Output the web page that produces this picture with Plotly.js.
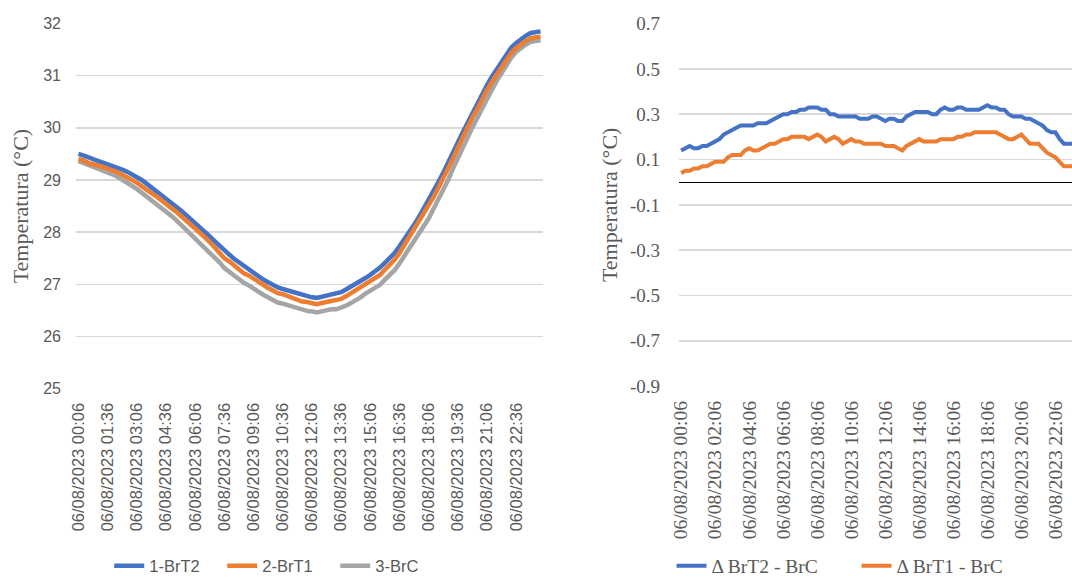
<!DOCTYPE html>
<html><head><meta charset="utf-8">
<script src="https://cdn.plot.ly/plotly-3.0.1.min.js"></script>
<style>html,body{margin:0;padding:0;overflow:hidden;background:#fff}#chart{width:1072px;height:586px}</style>
</head><body><div id="chart"></div>
<script>
const dateLabel = "06/08/2023";
const times = ["00:06","00:21","00:36","00:51","01:06","01:21","01:36","01:51","02:06","02:21","02:36","02:51",
"03:06","03:21","03:36","03:51","04:06","04:21","04:36","04:51","05:06","05:21","05:36","05:51",
"06:06","06:21","06:36","06:51","07:06","07:21","07:36","07:51","08:06","08:21","08:36","08:51",
"09:06","09:21","09:36","09:51","10:06","10:21","10:36","10:51","11:06","11:21","11:36","11:51",
"12:06","12:21","12:36","12:51","13:06","13:21","13:36","13:51","14:06","14:21","14:36","14:51",
"15:06","15:21","15:36","15:51","16:06","16:21","16:36","16:51","17:06","17:21","17:36","17:51",
"18:06","18:21","18:36","18:51","19:06","19:21","19:36","19:51","20:06","20:21","20:36","20:51",
"21:06","21:21","21:36","21:51","22:06","22:21","22:36","22:51","23:06","23:21","23:36","23:51"];

const brT2 = [29.50,29.48,29.44,29.40,29.37,29.34,29.31,29.28,29.24,29.20,29.16,29.11,
29.06,29.00,28.93,28.86,28.79,28.72,28.65,28.58,28.50,28.42,28.34,28.26,
28.18,28.10,28.01,27.92,27.83,27.74,27.64,27.57,27.49,27.42,27.35,27.28,
27.21,27.15,27.09,27.04,26.98,26.94,26.91,26.88,26.85,26.82,26.79,26.77,
26.75,26.74,26.76,26.78,26.79,26.81,26.85,26.90,26.95,27.00,27.06,27.12,
27.18,27.24,27.32,27.41,27.50,27.60,27.73,27.86,28.00,28.14,28.29,28.45,
28.60,28.78,28.96,29.14,29.32,29.52,29.72,29.91,30.10,30.29,30.47,30.65,
30.82,30.98,31.13,31.28,31.41,31.54,31.63,31.71,31.77,31.82,31.84,31.85];

const brT1 = [29.40,29.38,29.33,29.31,29.28,29.25,29.22,29.19,29.15,29.10,29.04,29.00,
28.95,28.88,28.80,28.75,28.69,28.61,28.53,28.47,28.40,28.32,28.23,28.15,
28.07,27.99,27.90,27.81,27.71,27.62,27.50,27.44,27.37,27.30,27.21,27.17,
27.11,27.05,26.97,26.93,26.88,26.83,26.81,26.77,26.74,26.70,26.67,26.66,
26.64,26.62,26.64,26.66,26.66,26.68,26.72,26.77,26.83,26.87,26.93,27.00,
27.06,27.11,27.18,27.28,27.37,27.47,27.60,27.75,27.89,28.04,28.19,28.34,
28.48,28.67,28.85,29.03,29.20,29.41,29.62,29.82,30.02,30.20,30.36,30.55,
30.73,30.88,31.03,31.18,31.30,31.44,31.53,31.61,31.67,31.72,31.74,31.75];

const brC = [29.36,29.33,29.28,29.25,29.22,29.18,29.15,29.11,29.06,29.01,28.95,28.89,
28.83,28.76,28.68,28.61,28.54,28.47,28.39,28.32,28.24,28.15,28.06,27.97,
27.88,27.80,27.70,27.61,27.51,27.42,27.31,27.24,27.16,27.10,27.03,26.98,
26.91,26.86,26.80,26.75,26.69,26.65,26.63,26.60,26.57,26.53,26.50,26.49,
26.48,26.46,26.48,26.51,26.52,26.52,26.55,26.59,26.64,26.69,26.75,26.82,
26.88,26.92,26.99,27.09,27.18,27.27,27.40,27.54,27.68,27.82,27.97,28.12,
28.26,28.45,28.63,28.82,29.00,29.22,29.43,29.62,29.81,30.01,30.19,30.38,
30.56,30.73,30.90,31.06,31.19,31.35,31.46,31.54,31.60,31.65,31.67,31.68];

const dBrT2_BrC = [0.14,0.15,0.16,0.15,0.15,0.16,0.16,0.17,0.18,0.19,0.21,0.22,
0.23,0.24,0.25,0.25,0.25,0.25,0.26,0.26,0.26,0.27,0.28,0.29,
0.30,0.30,0.31,0.31,0.32,0.32,0.33,0.33,0.33,0.32,0.32,0.30,
0.30,0.29,0.29,0.29,0.29,0.29,0.28,0.28,0.28,0.29,0.29,0.28,
0.27,0.28,0.28,0.27,0.27,0.29,0.30,0.31,0.31,0.31,0.31,0.30,
0.30,0.32,0.33,0.32,0.32,0.33,0.33,0.32,0.32,0.32,0.32,0.33,
0.34,0.33,0.33,0.32,0.32,0.30,0.29,0.29,0.29,0.28,0.28,0.27,
0.26,0.25,0.23,0.22,0.22,0.19,0.17,0.17,0.17,0.17,0.17,0.17];

const dBrT1_BrC = [0.04,0.05,0.05,0.06,0.06,0.07,0.07,0.08,0.09,0.09,0.09,0.11,
0.12,0.12,0.12,0.14,0.15,0.14,0.14,0.15,0.16,0.17,0.17,0.18,
0.19,0.19,0.20,0.20,0.20,0.20,0.19,0.20,0.21,0.20,0.18,0.19,
0.20,0.19,0.17,0.18,0.19,0.18,0.18,0.17,0.17,0.17,0.17,0.17,
0.16,0.16,0.16,0.15,0.14,0.16,0.17,0.18,0.19,0.18,0.18,0.18,
0.18,0.19,0.19,0.19,0.19,0.20,0.20,0.21,0.21,0.22,0.22,0.22,
0.22,0.22,0.22,0.21,0.20,0.19,0.19,0.20,0.21,0.19,0.17,0.17,
0.17,0.15,0.13,0.12,0.11,0.09,0.07,0.07,0.07,0.07,0.07,0.07];

const leftTickTimes = ["00:06","01:36","03:06","04:36","06:06","07:36","09:06","10:36",
"12:06","13:36","15:06","16:36","18:06","19:36","21:06","22:36"];
const rightTickTimes = ["00:06","02:06","04:06","06:06","08:06","10:06","12:06","14:06",
"16:06","18:06","20:06","22:06"];
const rightTickVals = [0.7,0.5,0.3,0.1,-0.1,-0.3,-0.5,-0.7,-0.9];
const rightTickText = ["0.7","0.5","0.3","0.1","-0.1","-0.3","-0.5","-0.7","-0.9"];

const cats = times.map(t => dateLabel + " " + t);
const SANS = "Liberation Sans, Arial, sans-serif";
const SERIF = "Liberation Serif, Times New Roman, serif";
const GREY = "#595959";

const traces = [
  {x: cats, y: brC, name: "3-BrC", legendrank: 3, legend: "legend", xaxis: "x", yaxis: "y",
   mode: "lines", line: {color: "#A5A5A5", width: 4.5}},
  {x: cats, y: brT2, name: "1-BrT2", legendrank: 1, legend: "legend", xaxis: "x", yaxis: "y",
   mode: "lines", line: {color: "#4472C4", width: 4.5}},
  {x: cats, y: brT1, name: "2-BrT1", legendrank: 2, legend: "legend", xaxis: "x", yaxis: "y",
   mode: "lines", line: {color: "#ED7D31", width: 4.5}},
  {x: cats, y: dBrT2_BrC, name: "Δ BrT2 - BrC", legendrank: 1, legend: "legend2", xaxis: "x2", yaxis: "y2",
   mode: "lines", line: {color: "#4472C4", width: 4}},
  {x: cats, y: dBrT1_BrC, name: "Δ BrT1 - BrC", legendrank: 2, legend: "legend2", xaxis: "x2", yaxis: "y2",
   mode: "lines", line: {color: "#ED7D31", width: 4}}
];

const layout = {
  width: 1072, height: 586,
  margin: {l: 0, r: 0, t: 0, b: 0},
  paper_bgcolor: "#fff", plot_bgcolor: "#fff",
  showlegend: true,
  xaxis: {domain: [0.0709, 0.5065], type: "category", anchor: "y", range: [-0.5, 95.5],
    tickvals: leftTickTimes.map(t => dateLabel + " " + t), tickangle: -90,
    tickfont: {family: SANS, size: 16.5, color: GREY}, showgrid: false, showline: false,
    zeroline: false, ticks: "", ticklabelstandoff: 10},
  yaxis: {domain: [0.3242, 0.959], anchor: "x", range: [25, 32], tick0: 25, dtick: 1,
    gridcolor: "#D9D9D9", gridwidth: 1.5, zeroline: false, showline: false, ticks: "",
    tickfont: {family: SANS, size: 16, color: GREY}, ticklabelstandoff: 14,
    title: {text: "Temperatura (°C)", font: {family: SERIF, size: 22, color: GREY}, standoff: 8}},
  xaxis2: {domain: [0.6334, 1], type: "category", anchor: "y2", range: [-0.5, 91.9],
    tickvals: rightTickTimes.map(t => dateLabel + " " + t), tickangle: -90,
    tickfont: {family: SERIF, size: 19.5, color: GREY}, showgrid: false, showline: false,
    zeroline: false, ticks: "", ticklabelstandoff: 10},
  yaxis2: {domain: [0.3285, 0.959], anchor: "x2", range: [-0.9, 0.7],
    tickvals: rightTickVals, ticktext: rightTickText,
    gridcolor: "#D9D9D9", gridwidth: 1.5, zeroline: true, zerolinecolor: "#000", zerolinewidth: 1,
    showline: false, ticks: "", tickfont: {family: SERIF, size: 19, color: GREY}, ticklabelstandoff: 18,
    title: {text: "Temperatura (°C)", font: {family: SERIF, size: 22, color: GREY}, standoff: 6}},
  legend: {orientation: "h", x: 0.26, xanchor: "center", y: 0.0154, yanchor: "middle",
    font: {family: SANS, size: 16.5, color: GREY}, bgcolor: "rgba(0,0,0,0)", traceorder: "normal",
    entrywidth: 68, entrywidthmode: "pixels"},
  legend2: {orientation: "h", x: 0.799, xanchor: "center", y: 0.0154, yanchor: "middle",
    font: {family: SERIF, size: 19.5, color: GREY}, bgcolor: "rgba(0,0,0,0)", traceorder: "normal",
    entrywidth: 140, entrywidthmode: "pixels"}
};

Plotly.newPlot("chart", traces, layout, {staticPlot: true, displayModeBar: false});
</script></body></html>
